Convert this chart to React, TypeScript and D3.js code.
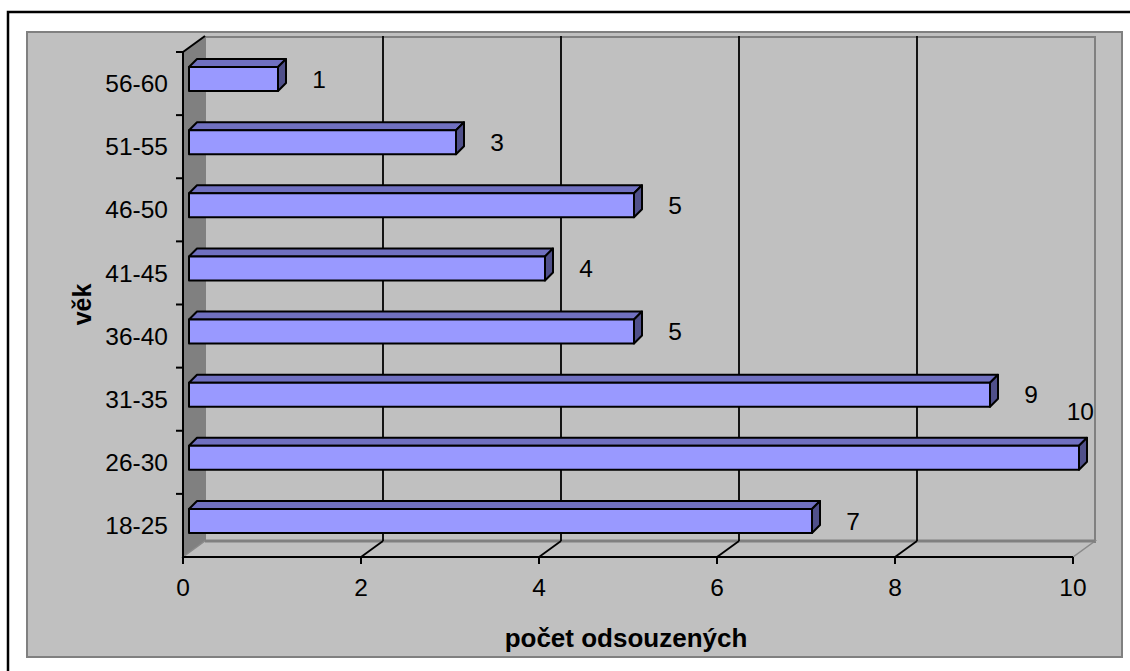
import { scaleLinear, scaleBand } from "d3";

const categories = ["18-25", "26-30", "31-35", "36-40", "41-45", "46-50", "51-55", "56-60"];
const values = [7, 10, 9, 5, 4, 5, 3, 1];
const xTicks = [0, 2, 4, 6, 8, 10];
const yTitle = "věk";
const xTitle = "počet odsouzených";

const width = 1130;
const height = 671;
const font = "Arial, 'Liberation Sans', sans-serif";

// front plane of the 3D box
const left = 183;
const right = 1073;
const top = 52;
const bottom = 557;
// depth offset of the back wall
const dx = 22;
const dy = -16;
// bar placement inside the depth
const barFrontX = 6;
const barFrontY = -4.5;
const barDx = 8;
const barDy = -8;
const barRatio = 0.38;

const xScale = scaleLinear().domain([0, 10]).range([left, right]);
const yScale = scaleBand().domain(categories).range([bottom, top]);

const App = () => {
  const bw = yScale.bandwidth() * barRatio;
  const backRight = right + dx;

  return (
    <svg
      width={width}
      height={height}
      style={{ position: "absolute", left: 0, top: 0, background: "#fff" }}
      fontFamily={font}
    >
      <rect x={8} y={12} width={1130} height={670} fill="#fff" stroke="#000" strokeWidth={2.5} />
      <rect x={27} y={32} width={1095} height={625} fill="#C0C0C0" stroke="#808080" strokeWidth={2} />

      {/* back wall */}
      <rect
        x={left + dx}
        y={top + dy + 1}
        width={right - left}
        height={bottom - top}
        fill="#C0C0C0"
        stroke="#808080"
        strokeWidth={2}
      />
      {/* side wall */}
      <polygon
        points={`${left},${top} ${left + dx},${top + dy} ${left + dx},${bottom + dy} ${left},${bottom}`}
        fill="#808080"
      />
      {/* floor */}
      <polygon
        points={`${left},${bottom} ${right},${bottom} ${right + dx},${bottom + dy} ${left + dx},${bottom + dy}`}
        fill="#C0C0C0"
        stroke="#8a8a8a"
        strokeWidth={1.5}
      />
      <line x1={left + dx} x2={right + dx} y1={bottom + dy} y2={bottom + dy} stroke="#808080" strokeWidth={3} />

      {/* grid lines */}
      {xTicks
        .filter((t) => t > 0 && t < 10)
        .map((t) => (
          <g key={t} stroke="#000" strokeWidth={1.8}>
            <line x1={xScale(t) + dx} x2={xScale(t) + dx} y1={top + dy} y2={bottom + dy} />
            <line x1={xScale(t)} x2={xScale(t) + dx} y1={bottom} y2={bottom + dy} />
          </g>
        ))}

      {/* axes */}
      <line x1={left} x2={left} y1={top} y2={bottom} stroke="#000" strokeWidth={2} />
      <line x1={left} x2={left + dx} y1={top} y2={top + dy} stroke="#000" strokeWidth={2} />
      <line x1={left} x2={right} y1={bottom} y2={bottom} stroke="#000" strokeWidth={2} />
      {yScale.domain().map((c) => (
        <line key={c} x1={left - 7} x2={left} y1={yScale(c)!} y2={yScale(c)!} stroke="#000" strokeWidth={2} />
      ))}
      <line x1={left - 7} x2={left} y1={top} y2={top} stroke="#000" strokeWidth={2} />
      {xTicks.map((t) => (
        <g key={t}>
          <line x1={xScale(t)} x2={xScale(t)} y1={bottom} y2={bottom + 7} stroke="#000" strokeWidth={2} />
          <text x={xScale(t)} y={596} textAnchor="middle" fontSize={24.5} fill="#000">
            {t}
          </text>
        </g>
      ))}
      {categories.map((c) => (
        <text
          key={c}
          x={168}
          y={yScale(c)! + yScale.bandwidth() / 2}
          dy="0.35em"
          textAnchor="end"
          fontSize={24.5}
          fill="#000"
        >
          {c}
        </text>
      ))}

      {/* bars */}
      {categories.map((c, i) => {
        const v = values[i];
        const x0 = xScale(0) + barFrontX;
        const x1 = xScale(v) + barFrontX;
        const yc = yScale(c)! + yScale.bandwidth() / 2 + barFrontY;
        const y0 = yc - bw / 2;
        const y1 = yc + bw / 2;
        const label = String(v);
        const lw = label.length * 0.556 * 24.5;
        let lx = x1 + 41;
        let ly = yc;
        if (lx + lw / 2 > backRight) {
          lx = backRight - lw / 2 - 1;
          ly = y0 + barDy - 26;
        }
        return (
          <g key={c} stroke="#000" strokeWidth={2} strokeLinejoin="round">
            <polygon
              points={`${x0},${y0} ${x0 + barDx},${y0 + barDy} ${x1 + barDx},${y0 + barDy} ${x1},${y0}`}
              fill="#7070C0"
            />
            <polygon
              points={`${x1},${y0} ${x1 + barDx},${y0 + barDy} ${x1 + barDx},${y1 + barDy} ${x1},${y1}`}
              fill="#50508A"
            />
            <rect x={x0} y={y0} width={x1 - x0} height={bw} fill="#9999FF" />
            <text x={lx} y={ly} dy="0.35em" textAnchor="middle" fontSize={24.5} fill="#000" stroke="none">
              {label}
            </text>
          </g>
        );
      })}

      <text
        transform={`translate(82,${(top + bottom) / 2}) rotate(-90)`}
        dy="0.35em"
        textAnchor="middle"
        fontSize={25}
        fontWeight="bold"
        fill="#000"
      >
        {yTitle}
      </text>
      <text x={(left + right) / 2 - 2} y={647} textAnchor="middle" fontSize={26} fontWeight="bold" fill="#000">
        {xTitle}
      </text>
    </svg>
  );
};

export default App;
